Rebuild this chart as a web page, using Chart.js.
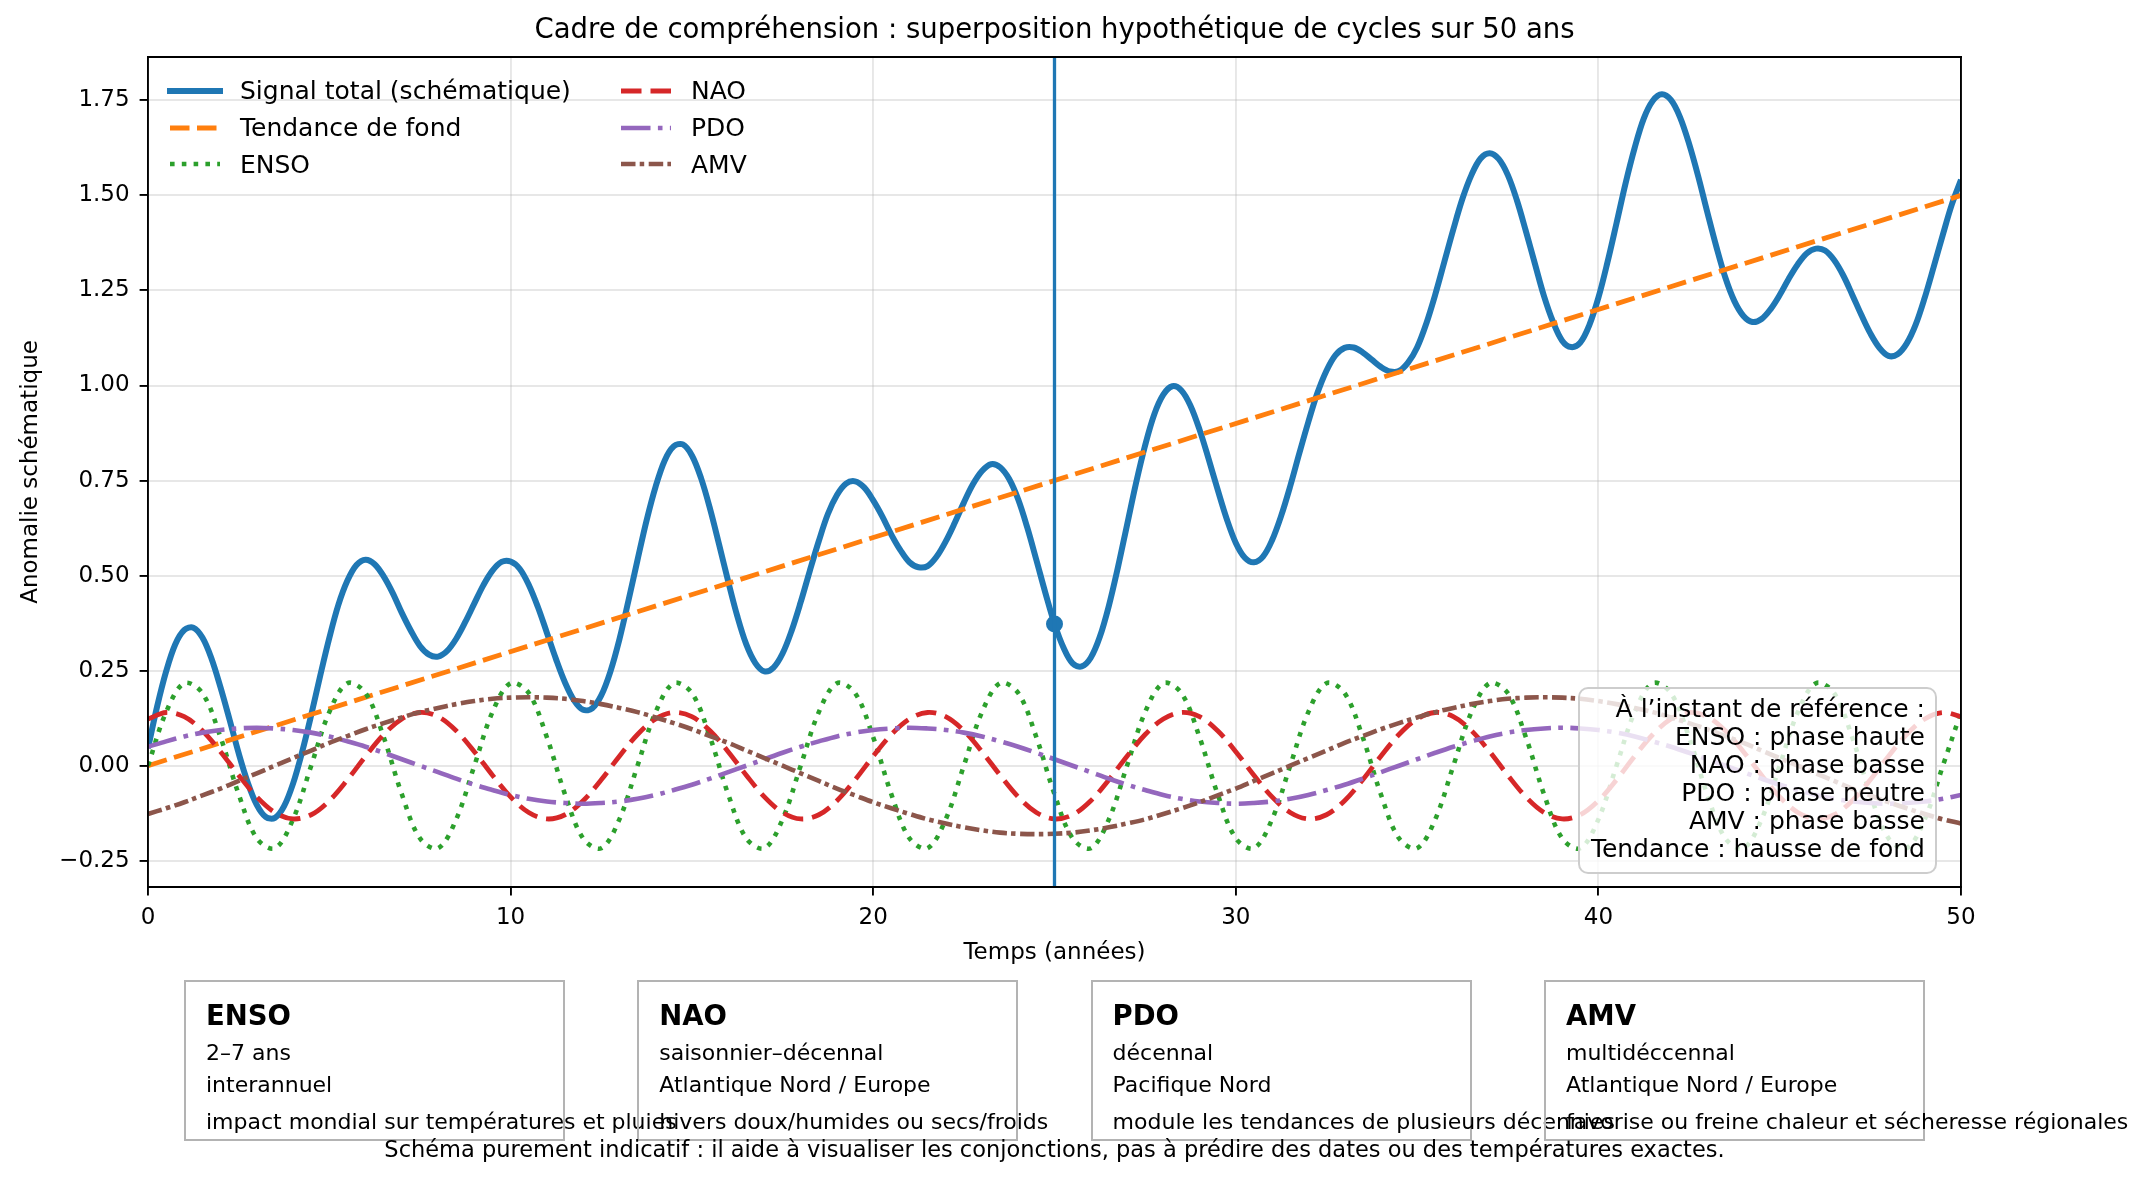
<!DOCTYPE html>
<html lang="fr">
<head>
<meta charset="utf-8">
<title>Cadre de compréhension</title>
<script src="https://cdn.jsdelivr.net/npm/chart.js@4.4.1/dist/chart.umd.min.js"></script>
<style>
  html, body { margin: 0; padding: 0; background: #fff; }
  body { position: relative; width: 2147px; height: 1184px; overflow: hidden;
         font-family: "DejaVu Sans", sans-serif; color: #000; }
  #chart { position: absolute; left: 0; top: 0; width: 2109px; height: 1184px; }
  .legend-item { position: absolute; height: 30px; display: flex; align-items: center;
                 font-size: 25px; white-space: nowrap; }
  .legend-item svg { display: block; margin-right: 17px; }
  #note { position: absolute; left: 1578px; top: 687px; width: 359px; height: 187px;
          box-sizing: border-box; border: 2px solid rgba(200,200,200,0.9); border-radius: 10px;
          background: rgba(255,255,255,0.8); text-align: right; font-size: 25px;
          line-height: 27.9px; padding: 6.4px 10px 0 0; white-space: nowrap; }
  .card { position: absolute; top: 980px; width: 381px; height: 161px; box-sizing: border-box;
          border: 2px solid #b3b3b3; }
  .card div { position: absolute; left: 20px; white-space: nowrap; line-height: normal; }
  .card .name { font-weight: bold; font-size: 27.5px; top: 17px; }
  .card .period { font-size: 22px; top: 58px; }
  .card .region { font-size: 22px; top: 89.5px; }
  .card .impact { font-size: 22px; top: 127px; }
  #footer { position: absolute; left: 0; width: 2109px; top: 1136px; text-align: center;
            font-size: 22.5px; line-height: normal; white-space: nowrap; }
</style>
</head>
<body>
<canvas id="chart" width="2109" height="1184"></canvas>
<div id="legend"></div>
<div id="note"></div>
<div id="cards"></div>
<div id="footer"></div>
<script>
// temps (années) du signal total, pas de 0,25 an
const signalYears = [
  0, 0.25, 0.5, 0.75, 1, 1.25, 1.5, 1.75,
  2, 2.25, 2.5, 2.75, 3, 3.25, 3.5, 3.75,
  4, 4.25, 4.5, 4.75, 5, 5.25, 5.5, 5.75,
  6, 6.25, 6.5, 6.75, 7, 7.25, 7.5, 7.75,
  8, 8.25, 8.5, 8.75, 9, 9.25, 9.5, 9.75,
  10, 10.25, 10.5, 10.75, 11, 11.25, 11.5, 11.75,
  12, 12.25, 12.5, 12.75, 13, 13.25, 13.5, 13.75,
  14, 14.25, 14.5, 14.75, 15, 15.25, 15.5, 15.75,
  16, 16.25, 16.5, 16.75, 17, 17.25, 17.5, 17.75,
  18, 18.25, 18.5, 18.75, 19, 19.25, 19.5, 19.75,
  20, 20.25, 20.5, 20.75, 21, 21.25, 21.5, 21.75,
  22, 22.25, 22.5, 22.75, 23, 23.25, 23.5, 23.75,
  24, 24.25, 24.5, 24.75, 25, 25.25, 25.5, 25.75,
  26, 26.25, 26.5, 26.75, 27, 27.25, 27.5, 27.75,
  28, 28.25, 28.5, 28.75, 29, 29.25, 29.5, 29.75,
  30, 30.25, 30.5, 30.75, 31, 31.25, 31.5, 31.75,
  32, 32.25, 32.5, 32.75, 33, 33.25, 33.5, 33.75,
  34, 34.25, 34.5, 34.75, 35, 35.25, 35.5, 35.75,
  36, 36.25, 36.5, 36.75, 37, 37.25, 37.5, 37.75,
  38, 38.25, 38.5, 38.75, 39, 39.25, 39.5, 39.75,
  40, 40.25, 40.5, 40.75, 41, 41.25, 41.5, 41.75,
  42, 42.25, 42.5, 42.75, 43, 43.25, 43.5, 43.75,
  44, 44.25, 44.5, 44.75, 45, 45.25, 45.5, 45.75,
  46, 46.25, 46.5, 46.75, 47, 47.25, 47.5, 47.75,
  48, 48.25, 48.5, 48.75, 49, 49.25, 49.5, 49.75,
  50
];

const signal = [
  0.046, 0.155, 0.248, 0.319, 0.357, 0.363, 0.337, 0.282,
  0.206, 0.121, 0.033, -0.044, -0.103, -0.135, -0.137, -0.107,
  -0.047, 0.036, 0.133, 0.237, 0.336, 0.423, 0.487, 0.528,
  0.542, 0.530, 0.498, 0.454, 0.402, 0.355, 0.315, 0.292,
  0.287, 0.302, 0.334, 0.378, 0.427, 0.475, 0.513, 0.536,
  0.537, 0.518, 0.476, 0.418, 0.350, 0.281, 0.219, 0.172,
  0.147, 0.151, 0.185, 0.247, 0.332, 0.434, 0.541, 0.645,
  0.734, 0.803, 0.840, 0.845, 0.816, 0.757, 0.676, 0.582,
  0.485, 0.394, 0.319, 0.270, 0.248, 0.258, 0.295, 0.355,
  0.430, 0.512, 0.591, 0.662, 0.712, 0.742, 0.748, 0.732,
  0.698, 0.656, 0.608, 0.567, 0.535, 0.522, 0.525, 0.550,
  0.590, 0.639, 0.692, 0.740, 0.775, 0.793, 0.785, 0.754,
  0.700, 0.626, 0.541, 0.454, 0.373, 0.310, 0.269, 0.261,
  0.284, 0.339, 0.421, 0.522, 0.633, 0.744, 0.843, 0.924,
  0.976, 0.998, 0.987, 0.947, 0.884, 0.807, 0.726, 0.649,
  0.586, 0.547, 0.535, 0.550, 0.593, 0.657, 0.735, 0.821,
  0.904, 0.980, 1.039, 1.080, 1.099, 1.100, 1.087, 1.068,
  1.049, 1.037, 1.038, 1.060, 1.100, 1.162, 1.239, 1.325,
  1.411, 1.491, 1.554, 1.597, 1.611, 1.596, 1.554, 1.488,
  1.406, 1.320, 1.235, 1.167, 1.118, 1.101, 1.113, 1.159,
  1.231, 1.324, 1.427, 1.532, 1.625, 1.702, 1.749, 1.766,
  1.751, 1.706, 1.636, 1.551, 1.457, 1.366, 1.284, 1.222,
  1.183, 1.167, 1.175, 1.201, 1.238, 1.281, 1.319, 1.348,
  1.360, 1.355, 1.330, 1.290, 1.239, 1.186, 1.137, 1.099,
  1.078, 1.082, 1.110, 1.160, 1.231, 1.313, 1.397, 1.477,
  1.541
];

const trendYears = [0, 50];
const trendValues = [0, 1.5];

// temps (années) des cycles, pas de 0,5 an
const years = [
  0, 0.5, 1, 1.5, 2, 2.5, 3, 3.5, 4, 4.5,
  5, 5.5, 6, 6.5, 7, 7.5, 8, 8.5, 9, 9.5,
  10, 10.5, 11, 11.5, 12, 12.5, 13, 13.5, 14, 14.5,
  15, 15.5, 16, 16.5, 17, 17.5, 18, 18.5, 19, 19.5,
  20, 20.5, 21, 21.5, 22, 22.5, 23, 23.5, 24, 24.5,
  25, 25.5, 26, 26.5, 27, 27.5, 28, 28.5, 29, 29.5,
  30, 30.5, 31, 31.5, 32, 32.5, 33, 33.5, 34, 34.5,
  35, 35.5, 36, 36.5, 37, 37.5, 38, 38.5, 39, 39.5,
  40, 40.5, 41, 41.5, 42, 42.5, 43, 43.5, 44, 44.5,
  45, 45.5, 46, 46.5, 47, 47.5, 48, 48.5, 49, 49.5,
  50
];

const enso = [
  0, 0.141, 0.217, 0.191, 0.075, -0.075, -0.191, -0.217, -0.141,
  0, 0.141, 0.217, 0.191, 0.075, -0.075, -0.191, -0.217, -0.141,
  0, 0.141, 0.217, 0.191, 0.075, -0.075, -0.191, -0.217, -0.141,
  0, 0.141, 0.217, 0.191, 0.075, -0.075, -0.191, -0.217, -0.141,
  0, 0.141, 0.217, 0.191, 0.075, -0.075, -0.191, -0.217, -0.141,
  0, 0.141, 0.217, 0.191, 0.075, -0.075, -0.191, -0.217, -0.141,
  0, 0.141, 0.217, 0.191, 0.075, -0.075, -0.191, -0.217, -0.141,
  0, 0.141, 0.217, 0.191, 0.075, -0.075, -0.191, -0.217, -0.141,
  0, 0.141, 0.217, 0.191, 0.075, -0.075, -0.191, -0.217, -0.141,
  0, 0.141, 0.217, 0.191, 0.075, -0.075, -0.191, -0.217, -0.141,
  0, 0.141, 0.217, 0.191, 0.075, -0.075, -0.191, -0.217, -0.141,
  0, 0.141
];

const nao = [
  0.123, 0.140, 0.129, 0.092, 0.037, -0.025, -0.082, -0.123, -0.140, -0.129, -0.092, -0.037, 0.025, 0.082,
  0.123, 0.140, 0.129, 0.092, 0.037, -0.025, -0.082, -0.123, -0.140, -0.129, -0.092, -0.037, 0.025, 0.082,
  0.123, 0.140, 0.129, 0.092, 0.037, -0.025, -0.082, -0.123, -0.140, -0.129, -0.092, -0.037, 0.025, 0.082,
  0.123, 0.140, 0.129, 0.092, 0.037, -0.025, -0.082, -0.123, -0.140, -0.129, -0.092, -0.037, 0.025, 0.082,
  0.123, 0.140, 0.129, 0.092, 0.037, -0.025, -0.082, -0.123, -0.140, -0.129, -0.092, -0.037, 0.025, 0.082,
  0.123, 0.140, 0.129, 0.092, 0.037, -0.025, -0.082, -0.123, -0.140, -0.129, -0.092, -0.037, 0.025, 0.082,
  0.123, 0.140, 0.129, 0.092, 0.037, -0.025, -0.082, -0.123, -0.140, -0.129, -0.092, -0.037, 0.025, 0.082,
  0.123, 0.140, 0.129
];

const pdo = [
  0.050, 0.064, 0.077, 0.087, 0.094, 0.098, 0.100, 0.098, 0.094, 0.087, 0.077, 0.064,
  0.050, 0.034, 0.017, 0.000, -0.017, -0.034, -0.050, -0.064, -0.077, -0.087, -0.094, -0.098,
  -0.100, -0.098, -0.094, -0.087, -0.077, -0.064, -0.050, -0.034, -0.017, 0.000, 0.017, 0.034,
  0.050, 0.064, 0.077, 0.087, 0.094, 0.098, 0.100, 0.098, 0.094, 0.087, 0.077, 0.064,
  0.050, 0.034, 0.017, 0.000, -0.017, -0.034, -0.050, -0.064, -0.077, -0.087, -0.094, -0.098,
  -0.100, -0.098, -0.094, -0.087, -0.077, -0.064, -0.050, -0.034, -0.017, 0.000, 0.017, 0.034,
  0.050, 0.064, 0.077, 0.087, 0.094, 0.098, 0.100, 0.098, 0.094, 0.087, 0.077, 0.064,
  0.050, 0.034, 0.017, 0.000, -0.017, -0.034, -0.050, -0.064, -0.077, -0.087, -0.094, -0.098,
  -0.100, -0.098, -0.094, -0.087, -0.077
];

const amv = [
  -0.127, -0.112, -0.096, -0.078, -0.060, -0.040, -0.020, 0.000, 0.020, 0.040,
  0.060, 0.078, 0.096, 0.112, 0.127, 0.141, 0.152, 0.162, 0.170, 0.176,
  0.179, 0.180, 0.179, 0.176, 0.170, 0.162, 0.152, 0.141, 0.127, 0.112,
  0.096, 0.078, 0.060, 0.040, 0.020, 0.000, -0.020, -0.040, -0.060, -0.078,
  -0.096, -0.112, -0.127, -0.141, -0.152, -0.162, -0.170, -0.176, -0.179, -0.180,
  -0.179, -0.176, -0.170, -0.162, -0.152, -0.141, -0.127, -0.112, -0.096, -0.078,
  -0.060, -0.040, -0.020, 0.000, 0.020, 0.040, 0.060, 0.078, 0.096, 0.112,
  0.127, 0.141, 0.152, 0.162, 0.170, 0.176, 0.179, 0.180, 0.179, 0.176,
  0.170, 0.162, 0.152, 0.141, 0.127, 0.112, 0.096, 0.078, 0.060, 0.040,
  0.020, 0.000, -0.020, -0.040, -0.060, -0.078, -0.096, -0.112, -0.127, -0.141,
  -0.152
];

const refYear = 25;
const xTicks = [0, 10, 20, 30, 40, 50];
const yTicks = [-0.25, 0, 0.25, 0.5, 0.75, 1, 1.25, 1.5, 1.75];

const noteLines = [
  "À l’instant de référence :",
  "ENSO : phase haute",
  "NAO : phase basse",
  "PDO : phase neutre",
  "AMV : phase basse",
  "Tendance : hausse de fond"
];

const cycleNames = ["ENSO", "NAO", "PDO", "AMV"];
const cyclePeriods = ["2–7 ans", "saisonnier–décennal", "décennal", "multidéccennal"];
const cycleRegions = ["interannuel", "Atlantique Nord / Europe", "Pacifique Nord", "Atlantique Nord / Europe"];
const cycleImpacts = [
  "impact mondial sur températures et pluies",
  "hivers doux/humides ou secs/froids",
  "module les tendances de plusieurs décennies",
  "favorise ou freine chaleur et sécheresse régionales"
];
const footerText = "Schéma purement indicatif : il aide à visualiser les conjonctions, pas à prédire des dates ou des températures exactes.";

Chart.defaults.font.family = '"DejaVu Sans", sans-serif';
Chart.defaults.color = "#000";

const toPoints = (xs, ys) => xs.map((x, i) => ({ x: x, y: ys[i] }));
const refIndex = signalYears.indexOf(refYear);
const gridColor = "rgba(176, 176, 176, 0.3)";
const spine = { display: true, color: "#000", width: 1.9, z: 1 };

// ligne verticale de l'instant de référence
const refLine = {
  id: "refLine",
  afterDatasetsDraw(chart) {
    const { ctx, chartArea, scales } = chart;
    const x = scales.x.getPixelForValue(refYear);
    ctx.save();
    ctx.strokeStyle = "#1f77b4";
    ctx.lineWidth = 3.3;
    ctx.beginPath();
    ctx.moveTo(x, chartArea.top);
    ctx.lineTo(x, chartArea.bottom);
    ctx.stroke();
    ctx.restore();
  }
};

const lineBase = { pointRadius: 0, fill: false, tension: 0.35, clip: 0, borderJoinStyle: "round" };

const chart = new Chart(document.getElementById("chart").getContext("2d"), {
  type: "line",
  data: {
    datasets: [
      { ...lineBase, label: "Signal total (schématique)", data: toPoints(signalYears, signal),
        borderColor: "#1f77b4", borderWidth: 6, order: 6 },
      { ...lineBase, label: "Tendance de fond", data: toPoints(trendYears, trendValues),
        borderColor: "#ff7f0e", borderWidth: 4.8, borderDash: [19.5, 7.5], order: 5 },
      { ...lineBase, label: "ENSO", data: toPoints(years, enso),
        borderColor: "#2ca02c", borderWidth: 4.6, borderDash: [4.6, 7.2], order: 4 },
      { ...lineBase, label: "NAO", data: toPoints(years, nao),
        borderColor: "#d62728", borderWidth: 4.8, borderDash: [20.5, 9], order: 3 },
      { ...lineBase, label: "PDO", data: toPoints(years, pdo),
        borderColor: "#9467bd", borderWidth: 4.6, borderDash: [29.5, 7.4, 4.6, 7.4], order: 2 },
      { ...lineBase, label: "AMV", data: toPoints(years, amv),
        borderColor: "#8c564b", borderWidth: 4.6, borderDash: [14.5, 4.2, 4.5, 4.5], order: 1 },
      { label: "ref", data: [{ x: refYear, y: signal[refIndex] }], showLine: false, clip: 0,
        pointRadius: 8.5, pointBackgroundColor: "#1f77b4", pointBorderWidth: 0, order: 0 }
    ]
  },
  options: {
    responsive: false,
    animation: false,
    devicePixelRatio: 1,
    layout: { padding: { left: 0, right: 0, top: 0, bottom: 207 } },
    plugins: {
      legend: { display: false },
      tooltip: { enabled: false },
      title: {
        display: true,
        text: "Cadre de compréhension : superposition hypothétique de cycles sur 50 ans",
        font: { size: 27.5, weight: "normal" },
        color: "#000",
        padding: { top: 14, bottom: 10 }
      }
    },
    scales: {
      x: {
        type: "linear", position: "bottom", min: 0, max: 50,
        afterBuildTicks: s => { s.ticks = xTicks.map(v => ({ value: v })); },
        afterFit: s => { s.height = 90; },
        ticks: { font: { size: 23 }, color: "#000", padding: 8.5, maxRotation: 0, autoSkip: false },
        grid: { color: gridColor, lineWidth: 1.9, tickColor: "#000", tickLength: 8.4, tickWidth: 1.9 },
        border: spine,
        title: { display: true, text: "Temps (années)", font: { size: 23 }, color: "#000",
                 padding: { top: 0, bottom: 10 } }
      },
      y: {
        type: "linear", position: "left", min: -0.319, max: 1.864,
        afterBuildTicks: s => { s.ticks = yTicks.map(v => ({ value: v })); },
        afterFit: s => { s.width = 148; },
        ticks: {
          font: { size: 23 }, color: "#000", padding: 10, autoSkip: false,
          callback: v => (v < 0 ? "\u2212" : "") + Math.abs(v).toFixed(2)
        },
        grid: { color: gridColor, lineWidth: 1.9, tickColor: "#000", tickLength: 8.4, tickWidth: 1.9 },
        border: spine,
        title: { display: true, text: "Anomalie schématique", font: { size: 23 }, color: "#000",
                 padding: { top: 17, bottom: 0 } }
      },
      yRight: {
        type: "linear", position: "right",
        grid: { display: false }, ticks: { display: false }, border: spine,
        afterFit: s => { s.width = 148; }
      },
      xTop: {
        type: "linear", position: "top",
        grid: { display: false }, ticks: { display: false }, border: spine,
        afterFit: s => { s.height = 0; }
      }
    }
  },
  plugins: [refLine]
});

// légende sur deux colonnes, remplie colonne par colonne
const legendBox = document.getElementById("legend");
const colLeft = [167, 618];
const rowTop = [75.7, 112.7, 149];
chart.data.datasets.slice(0, 6).forEach((ds, i) => {
  const item = document.createElement("div");
  item.className = "legend-item";
  item.style.left = colLeft[Math.floor(i / 3)] + "px";
  item.style.top = rowTop[i % 3] + "px";
  const dash = ds.borderDash ? ds.borderDash.join(" ") : "none";
  const cap = ds.borderDash ? "butt" : "square";
  item.innerHTML =
    '<svg width="56" height="14"><line x1="3" y1="7" x2="53" y2="7" stroke="' + ds.borderColor +
    '" stroke-width="' + ds.borderWidth + '" stroke-dasharray="' + dash +
    '" stroke-linecap="' + cap + '"/></svg><span></span>';
  item.querySelector("span").textContent = ds.label;
  legendBox.appendChild(item);
});

// encadré de l'instant de référence
const note = document.getElementById("note");
noteLines.forEach(t => {
  const d = document.createElement("div");
  d.textContent = t;
  note.appendChild(d);
});

// cartes descriptives des cycles
const cards = document.getElementById("cards");
const cardLeft = [184, 637.3, 1090.6, 1544];
cycleNames.forEach((name, i) => {
  const c = document.createElement("div");
  c.className = "card";
  c.style.left = cardLeft[i] + "px";
  [["name", name], ["period", cyclePeriods[i]], ["region", cycleRegions[i]], ["impact", cycleImpacts[i]]]
    .forEach(([cls, txt]) => {
      const d = document.createElement("div");
      d.className = cls;
      d.textContent = txt;
      c.appendChild(d);
    });
  cards.appendChild(c);
});

document.getElementById("footer").textContent = footerText;
</script>
</body>
</html>
